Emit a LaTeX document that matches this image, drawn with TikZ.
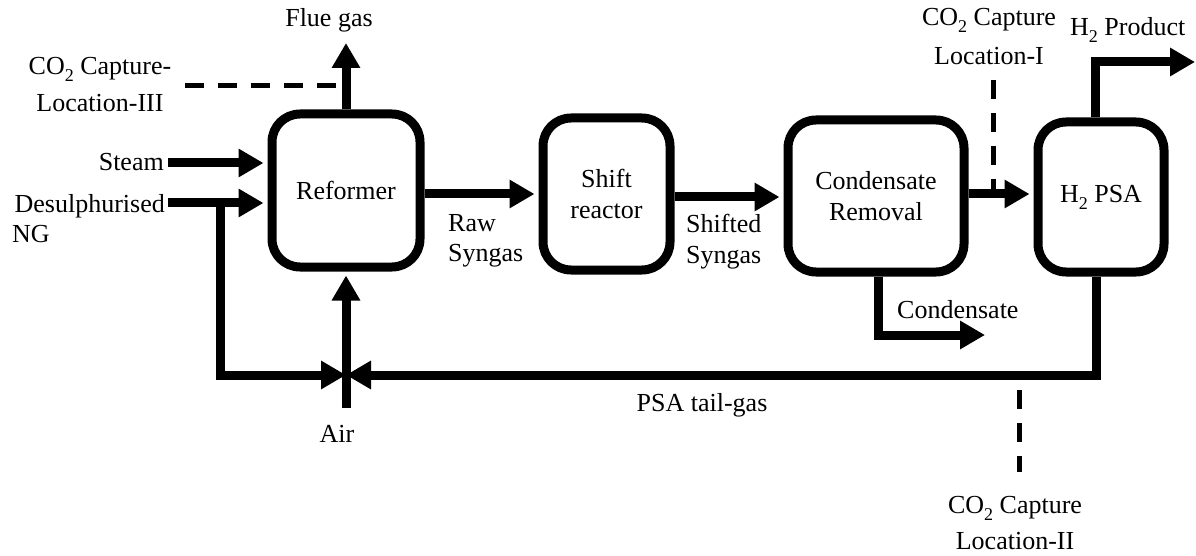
\documentclass[tikz,border=0pt]{standalone}
\usepackage{fontspec}
\setmainfont{Liberation Serif}
\usetikzlibrary{arrows.meta}
\newcommand{\subtwo}{\raisebox{-7pt}{\fontsize{18}{18}\selectfont 2}}
\begin{document}
\begin{tikzpicture}[x=1pt,y=-1pt,
 every node/.style={font=\fontsize{26}{31}\selectfont},
 proc/.style={draw,line width=9pt,rounded corners=28pt,inner sep=0pt,align=center},
 flow/.style={line width=9pt,-{Triangle[length=25pt,width=27pt]}},
 intobox/.style={flow,shorten >=4pt},
 capt/.style={line width=5pt,dash pattern=on 19pt off 14pt},
 lbl/.style={inner sep=0pt,anchor=base}]
\useasboundingbox (0,0) rectangle (1196,556);

% process boxes
\node[proc,minimum width=148pt,minimum height=153pt] (ref) at (346,190.5) {Reformer};
\node[proc,minimum width=127pt,minimum height=152pt] (shift) at (606.5,194) {Shift\\reactor};
\node[proc,minimum width=176pt,minimum height=152pt] (crm) at (876,196) {Condensate\\Removal};
\node[proc,minimum width=126pt,minimum height=150pt] (psa) at (1101,197) {H\subtwo{} PSA};

% labels
\node[lbl] (flue) at (329,27) {Flue gas};
\node[lbl] (c3a) at (100,75) {CO\subtwo{} Capture-};
\node[lbl] (c3b) at (100,112) {Location-III};
\node[lbl,anchor=base east] (steam) at (164,171) {Steam};
\node[lbl,anchor=base east] (desul) at (165,212) {Desulphurised};
\node[lbl,anchor=base west] (ng) at (12,242) {NG};
\node[lbl,anchor=base west] (raw) at (448,231) {Raw};
\node[lbl,anchor=base west] (raws) at (448,261) {Syngas};
\node[lbl,anchor=base west] (shf) at (686,233) {Shifted};
\node[lbl,anchor=base west] (shfs) at (686,263) {Syngas};
\node[lbl] (c1a) at (989,26) {CO\subtwo{} Capture};
\node[lbl] (c1b) at (989,65) {Location-I};
\node[lbl,anchor=base west] (h2p) at (1070,36) {H\subtwo{} Product};
\node[lbl,anchor=base west] (cond) at (897,318) {Condensate};
\node[lbl] (tail) at (702,411) {PSA tail-gas};
\node[lbl] (air) at (337,442) {Air};
\node[lbl] (c2a) at (1015,513) {CO\subtwo{} Capture};
\node[lbl] (c2b) at (1015,549) {Location-II};

% helper coordinates
\coordinate (sst) at (168,163);
\coordinate (dst) at (168,203);
\coordinate (j) at (220,203);
\coordinate (cross) at (346,375);
\coordinate (tailx) at (1096,375);
\coordinate (airb) at (346,408);
\coordinate (fluet) at (346,43);
\coordinate (c3s) at (185,86);
\coordinate (y1) at (0,194);
\coordinate (y2) at (0,197);
\coordinate (y3) at (0,194);
\coordinate (c1t) at (993,80);
\coordinate (h2c) at (1095,62);
\coordinate (h2t) at (1195,62);
\coordinate (cc) at (878,335);
\coordinate (ct) at (985,335);
\coordinate (c2t) at (1019,390);
\coordinate (c2e) at (1019,472);

% feeds
\draw[intobox] (sst) -- (sst -| ref.west);
\draw[intobox] (dst) -- (dst -| ref.west);
\draw[flow] (j) |- (cross);
\draw[flow] (psa.south -| tailx) |- (cross);
\draw[intobox] (airb) -- (ref.south);
\draw[flow] (ref.north) -- (fluet);
\draw[capt] (c3s) -- (c3s -| ref.north);

% main line
\draw[intobox] (ref.east |- y1) -- (shift.west |- y1);
\draw[intobox] (shift.east |- y2) -- (crm.west |- y2);
\draw[intobox] (crm.east |- y3) -- (psa.west |- y3);
\draw[capt] (c1t) -- (c1t |- y3);

% products
\draw[flow] (psa.north -| h2c) -- (h2c) -- (h2t);
\draw[flow] (crm.south -| cc) -- (cc) -- (ct);
\draw[capt] (c2t) -- (c2e);
\end{tikzpicture}
\end{document}
